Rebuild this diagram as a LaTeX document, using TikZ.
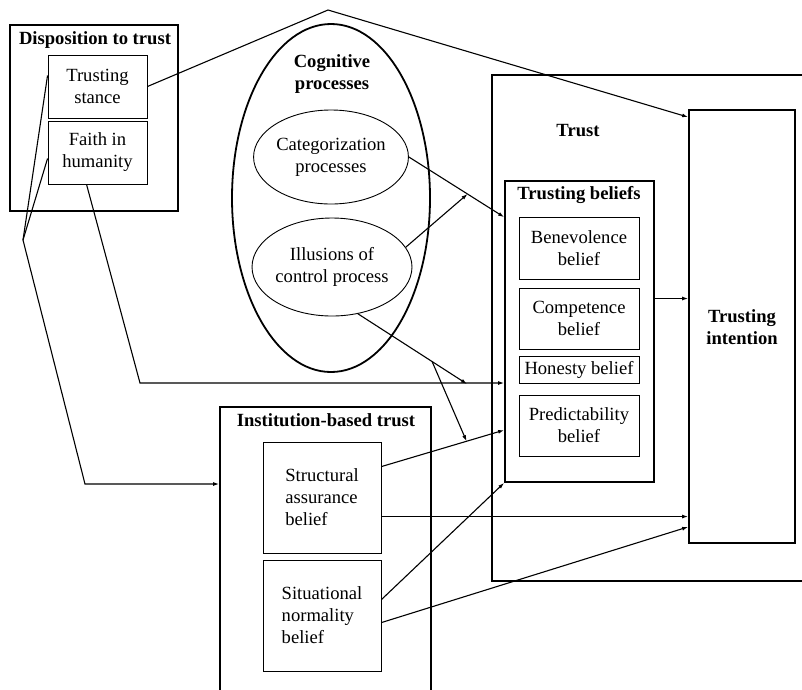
\documentclass[tikz,border=0pt]{standalone}
\usepackage{fontspec}
\setmainfont{Liberation Serif}
\usetikzlibrary{arrows.meta,calc,shapes.geometric}
\begin{document}
\begin{tikzpicture}[x=1pt,y=-1pt,
  every node/.style={font=\fontsize{18.6}{22}\selectfont},
  thickbox/.style={draw,line width=1.8pt,rectangle,inner sep=0pt},
  thinbox/.style={draw,line width=0.9pt,rectangle,inner sep=2pt,align=center},
  thinell/.style={draw,line width=0.9pt,ellipse,inner sep=0pt,align=center},
  title/.style={font=\fontsize{18.6}{22}\selectfont\bfseries,align=center,inner sep=0pt},
  conn/.style={line width=1.1pt},
  arr/.style={line width=1.1pt,-{Latex[length=6pt,width=4pt]}}]
\clip (0,0) rectangle (802,689);
\fill[white] (0,0) rectangle (802,689);
% Disposition to trust
\node[thickbox,minimum width=168pt,minimum height=186pt] (disp) at (94,118) {};
\node[title] (dispt) at (95,40) {Disposition to trust};
\node[thinbox,minimum width=99pt,minimum height=63pt] (ts) at (97.5,86.5) {Trusting\\stance};
\node[thinbox,minimum width=99pt,minimum height=63pt] (fh) at (97.5,152.5) {Faith in\\humanity};
% Cognitive processes
\node[draw,line width=1.8pt,ellipse,minimum width=198pt,minimum height=348pt,inner sep=0pt] (cog) at (331,198) {};
\node[title] (cogt) at (332,74) {Cognitive\\processes};
\node[thinell,minimum width=150pt,minimum height=94pt] (cat) at (331,157) {Categorization\\processes};
\node[thinell,minimum width=148pt,minimum height=98pt] (ill) at (332,267) {Illusions of\\control process};
% Trust
\node[thickbox,minimum width=323pt,minimum height=506pt] (trust) at (653.5,328) {};
\node[title] (trustt) at (578,131) {Trust};
\node[thickbox,minimum width=149pt,minimum height=301pt] (tb) at (579.5,331.5) {};
\node[title] (tbt) at (579,195) {Trusting beliefs};
\node[thinbox,minimum width=120pt,minimum height=62pt] (ben) at (579,248) {Benevolence\\belief};
\node[thinbox,minimum width=120pt,minimum height=61pt] (com) at (579,318.5) {Competence\\belief};
\node[thinbox,minimum width=120pt,minimum height=27pt,inner sep=0pt] (hon) at (579,369.5) {Honesty belief};
\node[thinbox,minimum width=120pt,minimum height=61pt] (pre) at (579,425.5) {Predictability\\belief};
\node[thickbox,minimum width=106pt,minimum height=433pt] (ti) at (742,326.5) {};
\node[title] (tit) at (742,327) {Trusting\\intention};
% Institution-based trust
\node[thickbox,minimum width=211pt,minimum height=293pt] (ib) at (325.5,553.5) {};
\node[title] (ibt) at (326,420) {Institution-based trust};
\node[thinbox,align=left,minimum width=118pt,minimum height=111pt] (sa) at (322,497.5) {Structural\\assurance\\belief};
\node[thinbox,align=left,minimum width=118pt,minimum height=111pt] (sn) at (322,615.5) {Situational\\normality\\belief};
% coordinates
\coordinate (apex) at (328,10);
\coordinate (L) at (23,240);
\coordinate (K) at (85,484);
\coordinate (F) at (140,383);
\coordinate (tbcat) at ($(tb.north west)+(0,37)$);
\coordinate (mcat) at ($(cat.east)!0.616!(tbcat)$);
\coordinate (P) at (467,384);
\coordinate (tbpre) at ($(tb.north west)+(0,250)$);
\coordinate (sa1) at ($(sa.north east)+(0,25)$);
\coordinate (sa2) at ($(sa.north east)+(0,75)$);
\coordinate (sn1) at ($(sn.north east)+(0,40)$);
\coordinate (sn2) at ($(sn.north east)+(0,63)$);
\coordinate (Q) at ($(ill.-61)!0.68!(P)$);
\coordinate (R) at ($(sa1)!0.694!(tbpre)$);
\coordinate (tbE) at ($(tb.east)+(0,-33)$);
\coordinate (tiS) at ($(ti.south west)+(0,-17)$);
\coordinate (tiN) at ($(ti.north west)+(0,8)$);
% connectors
\draw[arr] (ts.east) -- (apex) -- (tiN);
\draw[conn] ($(ts.west)+(0,-11)$) -- (L);
\draw[conn] ($(fh.west)+(0,6)$) -- (L);
\draw[arr] (L) -- (K) -- (K -| ib.west);
\draw[arr] ($(fh.south west)+(39,0)$) -- (F) -- (F -| tb.west);
\draw[arr] (cat.east) -- (tbcat);
\draw[arr] (ill.15) -- (mcat);
\draw[arr] (ill.-61) -- (P);
\draw[arr] (Q) -- (R);
\draw[arr] (sa1) -- (tbpre);
\draw[arr] (sa2) -- (sa2 -| ti.west);
\draw[arr] (sn1) -- (tb.south west);
\draw[arr] (sn2) -- (tiS);
\draw[arr] (tbE) -- (tbE -| ti.west);
\end{tikzpicture}
\end{document}
